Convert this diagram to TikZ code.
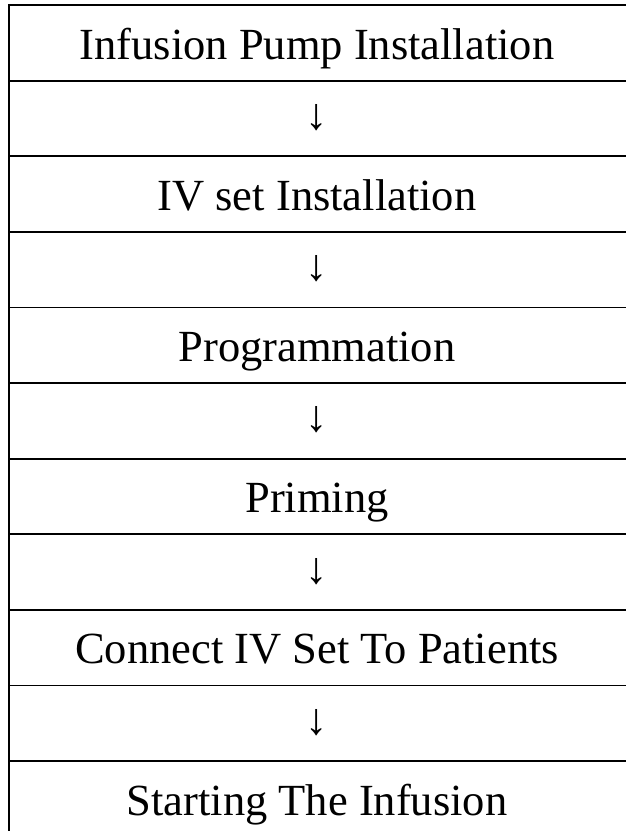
\documentclass[tikz,border=0pt]{standalone}
\usepackage{fontspec}
\setmainfont{Liberation Serif}
\begin{document}
\begin{tikzpicture}[x=1pt,y=-1pt,
  rule/.style={line width=1.8pt,line cap=rect},
  celltext/.style={anchor=base,inner sep=0pt,font=\fontsize{44.5}{50}\selectfont},
  cellarrow/.style={anchor=center,inner sep=0pt,font=\fontsize{44.5}{50}\selectfont}]
\useasboundingbox (0,0) rectangle (625,831);
% table rules
\foreach \k in {0,...,10}{
  \draw[rule] (9,{5+75.6*\k}) -- (626,{5+75.6*\k});
}
\draw[rule] (9,5) -- (9,840);
% cells
\node[celltext] (r1) at (317,{5+0*75.6+54}) {Infusion Pump Installation};
\node[cellarrow] (a1) at (317,{5+1*75.6+37}) {↓};
\node[celltext] (r2) at (317,{5+2*75.6+54}) {IV set Installation};
\node[cellarrow] (a2) at (317,{5+3*75.6+37}) {↓};
\node[celltext] (r3) at (317,{5+4*75.6+54}) {Programmation};
\node[cellarrow] (a3) at (317,{5+5*75.6+37}) {↓};
\node[celltext] (r4) at (317,{5+6*75.6+54}) {Priming};
\node[cellarrow] (a4) at (317,{5+7*75.6+37}) {↓};
\node[celltext] (r5) at (317,{5+8*75.6+54}) {Connect IV Set To Patients};
\node[cellarrow] (a5) at (317,{5+9*75.6+37}) {↓};
\node[celltext] (r6) at (317,{5+10*75.6+54}) {Starting The Infusion};
\end{tikzpicture}
\end{document}
